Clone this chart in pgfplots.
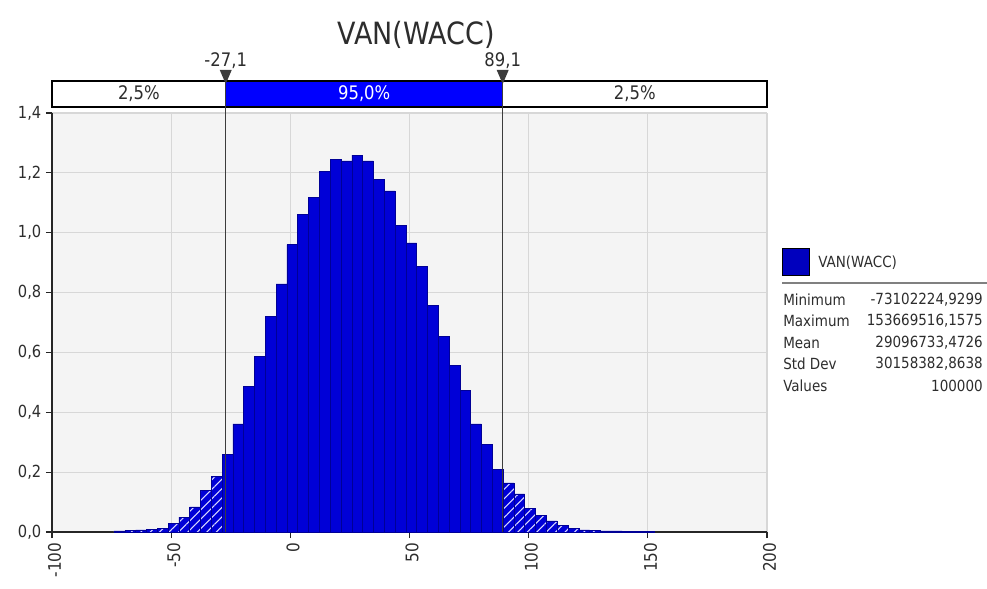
\documentclass[border=0pt]{standalone}
\usepackage{fontspec}
\setmainfont{DejaVu Sans}[FakeStretch=0.88]
\usepackage{pgfplots}
\pgfplotsset{compat=1.18}
\usetikzlibrary{patterns.meta}
\definecolor{barblue}{RGB}{0,0,215}
\definecolor{baredge}{RGB}{0,0,150}
\definecolor{plotbg}{RGB}{244,244,244}
\definecolor{gridgray}{RGB}{215,215,215}
\definecolor{pctblue}{RGB}{0,0,255}
\definecolor{legblue}{RGB}{0,0,190}
\definecolor{txtgray}{RGB}{45,45,45}
\definecolor{delim}{RGB}{60,60,60}
\begin{document}
\begin{tikzpicture}
\useasboundingbox (0,0) rectangle (740.25pt,-441pt);
\begin{axis}[
  at={(39pt,-399pt)}, anchor=south west,
  scale only axis, width=536.25pt, height=314.25pt,
  xmin=-100, xmax=200, ymin=0, ymax=1.4,
  xtick={-100,-50,0,50,100,150,200},
  ytick={0,0.2,0.4,0.6,0.8,1.0,1.2,1.4},
  axis background/.style={fill=plotbg},
  grid=major, grid style={gridgray, line width=0.8pt},
  axis x line*=bottom, axis y line*=left,
  axis line style={black!85, line width=0.9pt},
  tick align=outside, major tick length=4.5pt,
  tick style={black!85, line width=0.9pt},
  y tick label style={font=\fontsize{12.5}{14}\selectfont, /pgf/number format/.cd, fixed, fixed zerofill, precision=1, use comma, assume math mode=true},
  x tick label style={rotate=90, anchor=east, yshift=-2pt, font=\fontsize{13}{15}\selectfont, /pgf/number format/assume math mode=true},
  ticklabel style={text=txtgray},
  clip=false,
]
% left tail (hatched)
\addplot[ybar interval, fill=barblue, draw=baredge, line width=0.4pt,
  postaction={pattern={Lines[angle=45,distance=5pt,line width=0.8pt]}, pattern color=white!85!blue}]
coordinates {
(-74.00,0.004) (-69.46,0.005) (-64.93,0.007) (-60.39,0.009) (-55.86,0.013)
(-51.32,0.028) (-46.79,0.050) (-42.25,0.084) (-37.72,0.138) (-33.18,0.186)
(-28.65,0)
};
% central 95% (solid)
\addplot[ybar interval, fill=barblue, draw=baredge, line width=0.4pt]
coordinates {
(-28.65,0.260) (-24.11,0.361) (-19.58,0.486) (-15.04,0.587) (-10.50,0.721)
(-5.97,0.829) (-1.43,0.960) (3.10,1.062) (7.64,1.118) (12.17,1.206)
(16.71,1.246) (21.24,1.240) (25.78,1.259) (30.31,1.240) (34.85,1.178)
(39.39,1.140) (43.92,1.025) (48.46,0.966) (52.99,0.887) (57.53,0.757)
(62.06,0.654) (66.60,0.558) (71.13,0.474) (75.67,0.361) (80.20,0.294)
(84.74,0.210) (89.27,0)
};
% right tail (hatched)
\addplot[ybar interval, fill=barblue, draw=baredge, line width=0.4pt,
  postaction={pattern={Lines[angle=45,distance=5pt,line width=0.8pt]}, pattern color=white!85!blue}]
coordinates {
(89.27,0.164) (93.81,0.127) (98.35,0.079) (102.88,0.055) (107.42,0.037)
(111.95,0.023) (116.49,0.012) (121.02,0.007) (125.56,0.005) (130.09,0.004)
(134.63,0.004) (139.16,0.003) (143.70,0.003) (148.23,0.003) (152.77,0)
};
% percentile bar
\draw[black, line width=0.8pt, fill=white] (axis cs:-100,1.42) rectangle (axis cs:200,1.507);
\fill[pctblue] (axis cs:-27.1,1.42) rectangle (axis cs:89.1,1.507);
\draw[black, line width=0.9pt] (axis cs:-100,1.42) rectangle (axis cs:200,1.507);
\node[font=\fontsize{14}{16}\selectfont, text=txtgray] at (axis cs:-63.55,1.4635) {2,5\%};
\node[font=\fontsize{14}{16}\selectfont, text=white] at (axis cs:31.0,1.4635) {95,0\%};
\node[font=\fontsize{14}{16}\selectfont, text=txtgray] at (axis cs:144.55,1.4635) {2,5\%};
% delimiters
\draw[delim, line width=1pt] (axis cs:-27.1,0) -- (axis cs:-27.1,1.50);
\draw[delim, line width=1pt] (axis cs:89.1,0) -- (axis cs:89.1,1.50);
\fill[delim] (axis cs:-27.1,1.497) -- ++(-4.5pt,10.5pt) -- ++(9pt,0pt) -- cycle;
\fill[delim] (axis cs:89.1,1.497) -- ++(-4.5pt,10.5pt) -- ++(9pt,0pt) -- cycle;
\node[font=\fontsize{14}{16}\selectfont, text=txtgray, anchor=south, inner sep=1pt] at ([yshift=10pt]axis cs:-27.1,1.497) {-27,1};
\node[font=\fontsize{14}{16}\selectfont, text=txtgray, anchor=south, inner sep=1pt] at ([yshift=10pt]axis cs:89.1,1.497) {89,1};
\end{axis}
% title
\node[font=\fontsize{23}{27}\selectfont, text=txtgray] at (312pt,-26.25pt) {VAN(WACC)};
% legend
\draw[black, fill=legblue, line width=0.6pt] (586.5pt,-186pt) rectangle (606.75pt,-206.25pt);
\node[anchor=west, inner sep=0pt, font=\fontsize{11.5}{13}\selectfont, text=txtgray] at (613.5pt,-197.25pt) {VAN(WACC)};
\draw[gray, line width=0.8pt] (586.5pt,-212.25pt) -- (740.25pt,-212.25pt);
\begin{scope}[every node/.style={inner sep=0pt, font=\fontsize{11.5}{13}\selectfont, text=txtgray}]
\node[anchor=west] at (587.25pt,-225pt) {Minimum};
\node[anchor=east] at (737.25pt,-225pt) {-73102224,9299};
\node[anchor=west] at (587.25pt,-240.75pt) {Maximum};
\node[anchor=east] at (737.25pt,-240.75pt) {153669516,1575};
\node[anchor=west] at (587.25pt,-256.9pt) {Mean};
\node[anchor=east] at (737.25pt,-256.9pt) {29096733,4726};
\node[anchor=west] at (587.25pt,-273pt) {Std Dev};
\node[anchor=east] at (737.25pt,-273pt) {30158382,8638};
\node[anchor=west] at (587.25pt,-289.3pt) {Values};
\node[anchor=east] at (737.25pt,-289.3pt) {100000};
\end{scope}
\end{tikzpicture}
\end{document}
